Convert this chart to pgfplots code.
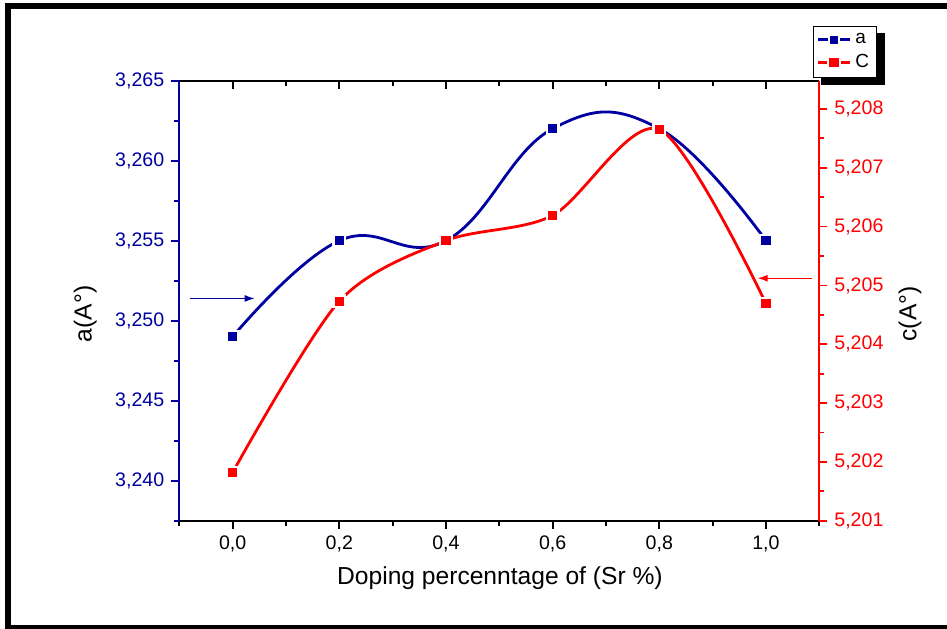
\documentclass[border=0pt]{standalone}
\usepackage{pgfplots}
\pgfplotsset{compat=1.18}
\usepackage{fontspec}
\setmainfont{Liberation Sans}
\usetikzlibrary{arrows.meta,backgrounds}
\definecolor{navyb}{RGB}{0,0,160}
\definecolor{redc}{RGB}{255,0,0}
\begin{document}
\begin{tikzpicture}
\useasboundingbox (-89.65pt,-53.65pt) rectangle (383.85pt,260.35pt);
\draw[line width=3pt] (-85.65pt,-53.4pt) rectangle (392pt,257.35pt);
\pgfplotsset{
  every axis/.append style={
    scale only axis, width=320pt, height=220pt,
    xmin=-0.1, xmax=1.1,
    tick label style={font=\fontsize{9.8}{11}\selectfont},
    /pgf/number format/assume math mode=true,
    major tick length=4pt, minor tick length=2.5pt,
    every tick/.append style={line width=0.9pt},
  },
}
% top axis (inward ticks)
\begin{axis}[
  axis x line*=top, axis y line=none,
  ymin=0, ymax=1,
  xtick={0,0.2,0.4,0.6,0.8,1.0},
  minor xtick={-0.1,0.1,0.3,0.5,0.7,0.9,1.1},
  xticklabels={},
  tick align=inside,
  x axis line style={black, line width=1pt, -},
  every tick/.append style={black},
]
\end{axis}
% left axis: a
\begin{axis}[
  axis x line*=bottom, axis y line*=left,
  ymin=3.2375, ymax=3.265,
  ytick={3.240,3.245,3.250,3.255,3.260,3.265},
  minor ytick={3.2375,3.2425,3.2475,3.2525,3.2575,3.2625},
  xtick={0,0.2,0.4,0.6,0.8,1.0},
  minor xtick={-0.1,0.1,0.3,0.5,0.7,0.9,1.1},
  tick align=outside,
  x axis line style={black, line width=1pt, -},
  y axis line style={navyb, line width=1pt, -},
  every major y tick/.append style={navyb},
  every minor y tick/.append style={navyb},
  every major x tick/.append style={black},
  every minor x tick/.append style={black},
  yticklabel style={text=navyb, /pgf/number format/.cd, fixed, fixed zerofill, precision=3, use comma},
  xticklabel style={/pgf/number format/.cd, fixed, fixed zerofill, precision=1, use comma},
  scaled y ticks=false,
  xlabel={Doping percenntage of (Sr \%)},
  ylabel={a(A°)},
  every axis x label/.style={at={(axis description cs:0.501,-0.130)}, anchor=center, font=\fontsize{12.3}{14}\selectfont},
  every axis y label/.style={at={(axis description cs:-0.147,0.47)}, anchor=center, rotate=90, font=\fontsize{12.3}{14}\selectfont},
]
\addplot[navyb, line width=1.4pt, smooth, tension=0.72, mark=square*, mark size=2.9pt,
  mark options={fill=navyb, draw=white, line width=1.1pt, solid}]
  coordinates {(0,3.249) (0.2,3.255) (0.4,3.255) (0.6,3.262) (0.8,3.262) (1.0,3.255)};
\draw[navyb, line width=0.6pt, -{Latex[length=5pt,width=3.5pt]}] (axis cs:-0.0806,3.25139) -- (axis cs:0.0412,3.25139);
\end{axis}
% right axis: c
\begin{axis}[
  axis x line=none, axis y line*=right,
  ymin=5.201, ymax=5.20848,
  ytick={5.201,5.202,5.203,5.204,5.205,5.206,5.207,5.208},
  minor ytick={5.2015,5.2025,5.2035,5.2045,5.2055,5.2065,5.2075},
  tick align=outside,
  y axis line style={redc, line width=1pt, -},
  every major y tick/.append style={redc},
  every minor y tick/.append style={redc},
  yticklabel style={text=redc, /pgf/number format/.cd, fixed, fixed zerofill, precision=3, use comma},
  scaled y ticks=false,
  ylabel={c(A°)},
  every axis y label/.style={at={(axis description cs:1.1417,0.47)}, anchor=center, rotate=90, font=\fontsize{12.3}{14}\selectfont},
  legend style={name=leg, at={(axis description cs:0.9906,1.1248)}, anchor=north west,
    font=\fontsize{9.5}{10}\selectfont, draw=black, fill=white, inner sep=1.5pt},
  legend image code/.code={\draw[mark repeat=2,mark phase=2] plot coordinates {(0pt,0pt) (8pt,0pt) (16pt,0pt)};},
  legend cell align=left,
]
\addlegendimage{navyb, line width=1.4pt, mark=square*, mark size=2.5pt, mark options={fill=navyb, draw=white, line width=0.8pt, solid}}
\addlegendentry{a}
\addplot[redc, line width=1.4pt, smooth, mark=square*, mark size=2.9pt,
  mark options={fill=redc, draw=white, line width=1.1pt, solid}]
  coordinates {(0,5.20182) (0.2,5.20473) (0.4,5.20576) (0.6,5.20619) (0.8,5.20765) (1.0,5.20469)};
\addlegendentry{C}
\draw[redc, line width=0.6pt, -{Latex[length=5pt,width=3.5pt]}] (axis cs:1.0862,5.205122) -- (axis cs:0.9843,5.205122);
\end{axis}
\begin{scope}[on background layer]
\fill[black] ([xshift=4pt,yshift=-3.5pt]leg.south west) rectangle ([xshift=4pt,yshift=-3.5pt]leg.north east);
\end{scope}
\end{tikzpicture}
\end{document}
